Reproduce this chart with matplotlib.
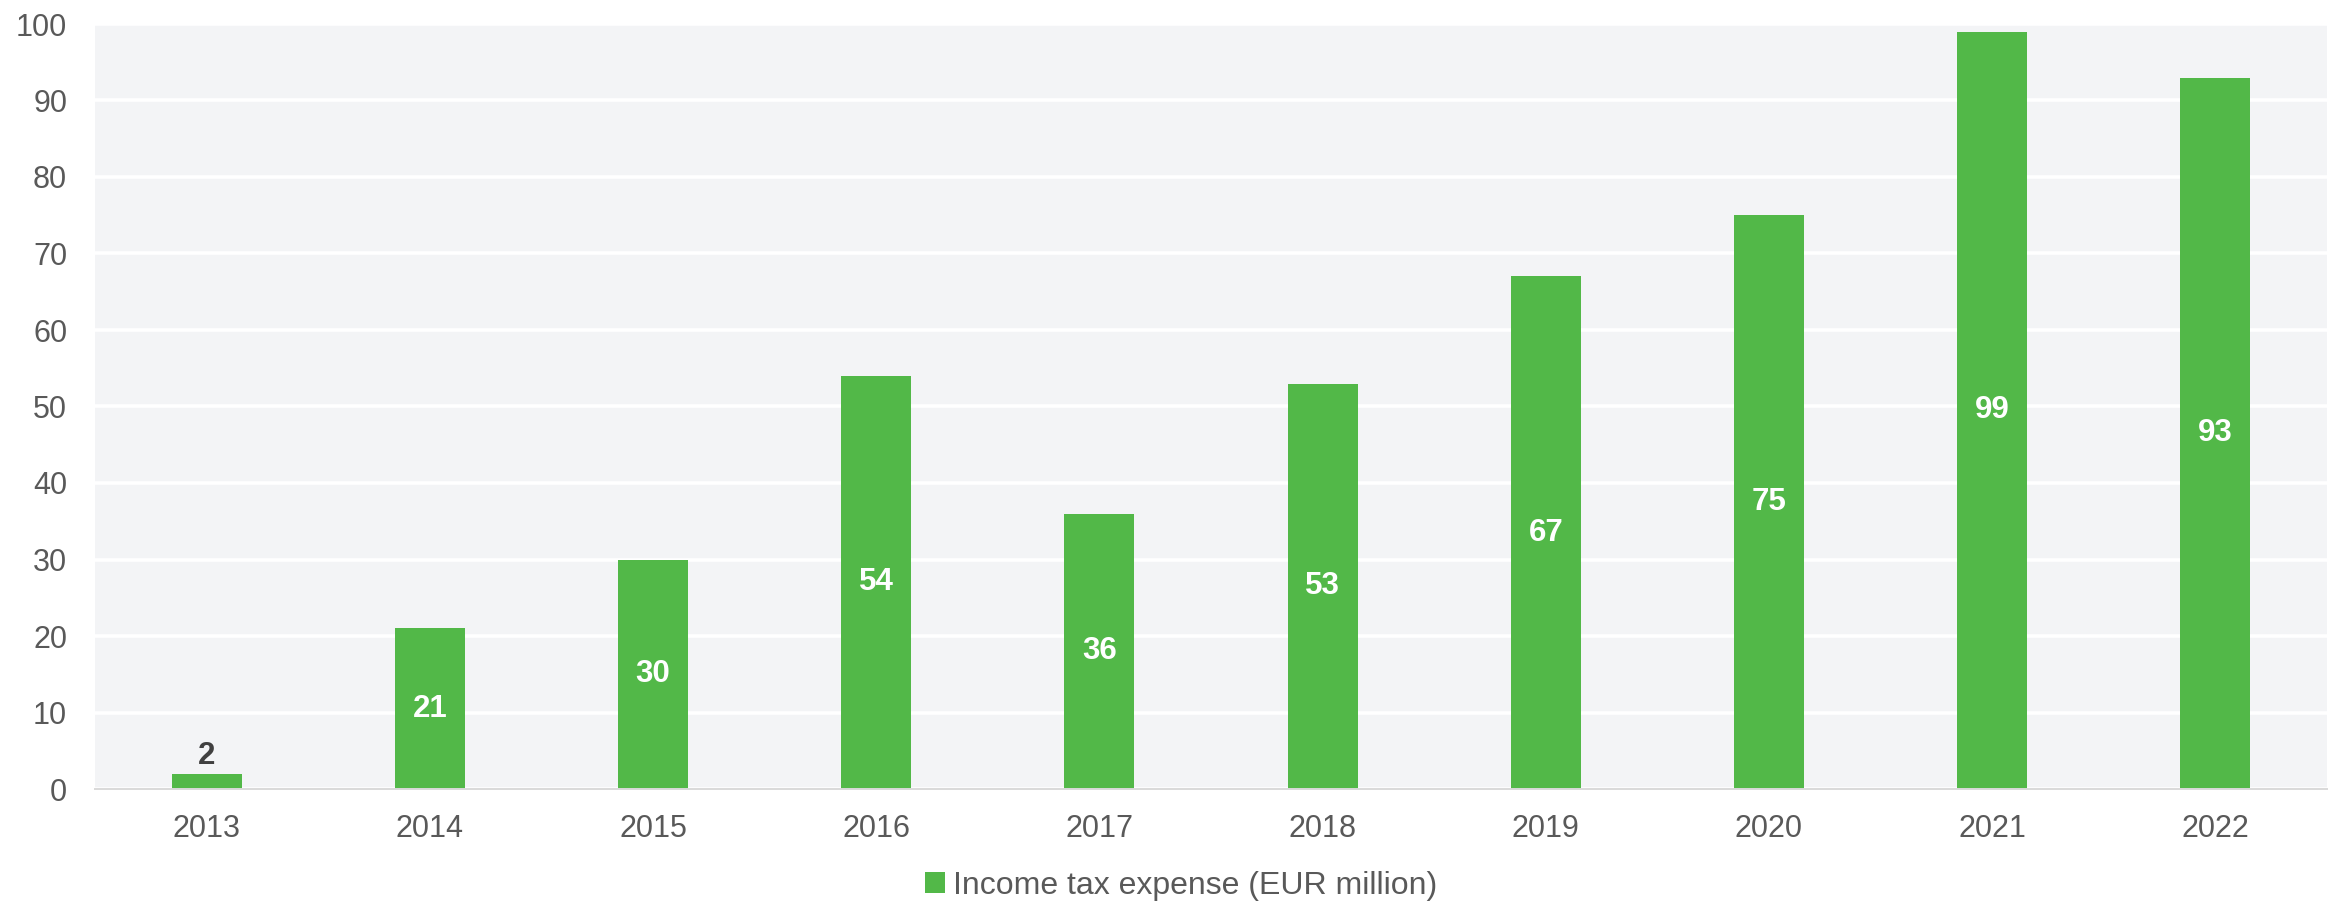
import matplotlib.pyplot as plt
import numpy as np

plt.rcParams['font.family'] = ['Liberation Sans', 'DejaVu Sans']

years = ['2013', '2014', '2015', '2016', '2017', '2018', '2019', '2020', '2021', '2022']
tax = [2, 21, 30, 54, 36, 53, 67, 75, 99, 93]
yticks = [0, 10, 20, 30, 40, 50, 60, 70, 80, 90, 100]

bar_color = '#52b848'
text_grey = '#595959'

fig = plt.figure(figsize=(23.39, 9.05), dpi=100)
ax = fig.add_axes([95 / 2339, 1 - 789 / 905, (2327 - 95) / 2339, (789 - 24) / 905])
ax.set_facecolor('#f3f4f6')

index = np.arange(len(years))
bars = ax.bar(index, tax, 0.314, color=bar_color, label='Income tax expense (EUR million)', zorder=3)

for i, v in enumerate(tax):
    if v < 5:
        ax.text(i, v + 0.3, str(v), ha='center', va='bottom', fontsize=22.5,
                fontweight='bold', color='#404040', zorder=4)
    else:
        ax.text(i, v / 2, str(v), ha='center', va='center', fontsize=22.5,
                fontweight='bold', color='white', zorder=4)

ax.set_xlim(-0.5, len(years) - 0.5)
ax.set_ylim(0, 100)
ax.set_yticks(yticks)
ax.set_xticks(index)
ax.set_xticklabels(years)
ax.yaxis.grid(True, color='white', linewidth=2.6, zorder=1)
ax.set_axisbelow(True)
ax.tick_params(axis='both', length=0, labelsize=22, labelcolor=text_grey)
ax.tick_params(axis='y', pad=20)
ax.tick_params(axis='x', pad=18)

for s in ['top', 'right', 'left']:
    ax.spines[s].set_visible(False)
ax.spines['bottom'].set_color('#d9d9d9')
ax.spines['bottom'].set_linewidth(1.4)
ax.spines['bottom'].set_zorder(5)

leg = fig.legend(loc='center', bbox_to_anchor=(0.505, 0.021), frameon=False,
                 fontsize=23, handlelength=0.65, handleheight=0.65, handletextpad=0.25)
for t in leg.get_texts():
    t.set_color(text_grey)

plt.savefig('out.png', dpi=100)
